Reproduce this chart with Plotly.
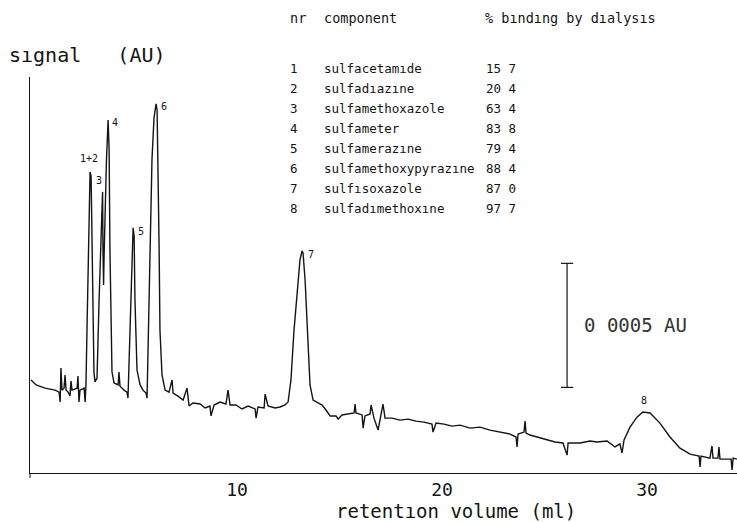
import numpy as np
import plotly.graph_objects as go

# ---- data (retention volume in ml, signal in 1e-4 AU) ----
retention_ml = [
    -0.05, 0.20, 0.63, 1.12, 1.32, 1.37, 1.41, 1.46, 1.56, 1.61, 1.66, 1.76, 1.85, 1.90, 1.95,
    2.20, 2.24, 2.29, 2.34, 2.54, 2.59, 2.63,
    2.68, 2.76, 2.83, 2.88, 2.93, 2.98, 3.02, 3.07, 3.17, 3.27, 3.37, 3.44, 3.46, 3.49, 3.51,
    3.56, 3.63, 3.71, 3.76, 3.80, 3.85, 3.90, 4.00, 4.20, 4.24, 4.29, 4.49, 4.63, 4.68,
    4.78, 4.88, 4.93, 4.98, 5.02, 5.12, 5.27, 5.41, 5.56, 5.61,
    5.66, 5.76, 5.85, 5.95, 6.05, 6.10, 6.15, 6.20, 6.24, 6.34, 6.49, 6.68, 6.83, 6.88,
    7.12, 7.37, 7.56, 7.61, 7.66, 7.85, 8.20, 8.44, 8.68, 8.73, 8.88, 9.17, 9.46, 9.56, 9.66,
    9.95, 10.24, 10.54, 10.88, 10.93, 11.02, 11.32, 11.37, 11.51, 11.85, 12.10, 12.34, 12.49,
    12.63, 12.78, 12.93, 13.07, 13.17, 13.22, 13.32, 13.46, 13.56, 13.71, 13.95, 14.15, 14.34,
    14.54, 14.83, 14.93, 15.12, 15.41, 15.71, 15.76, 15.80, 16.10, 16.15, 16.24, 16.49, 16.54,
    16.68, 16.88, 16.98, 17.12, 17.22, 17.56, 17.95, 18.34, 18.73, 19.12, 19.51, 19.56, 19.71,
    20.10, 20.49, 20.88, 21.37, 21.85, 22.34, 22.83, 23.32, 23.61, 23.66, 23.71, 24.00, 24.05,
    24.10, 24.29, 24.78, 25.12, 25.51, 25.90, 26.10, 26.15, 26.73, 27.22, 27.56, 28.05, 28.44,
    28.68, 28.78, 28.88, 29.17, 29.51, 29.80, 30.15, 30.63, 31.12, 31.61, 32.10, 32.54, 32.59,
    32.63, 33.07, 33.17, 33.22, 33.46, 33.51, 33.56, 34.10, 34.15, 34.20, 34.39,
]
signal = [
    3.35, 3.15, 3.02, 2.94, 2.86, 2.46, 3.83, 2.94, 3.02, 3.55, 2.94, 2.86, 2.70, 3.31, 2.94,
    3.02, 3.51, 2.46, 2.94, 3.02, 2.46, 3.15,
    5.36, 9.40, 11.73, 11.57, 8.99, 5.36, 3.67, 3.27, 3.43, 6.57, 9.80, 10.93, 8.59, 7.18, 8.19,
    10.20, 12.22, 13.83, 12.62, 8.59, 4.96, 3.67, 3.23, 3.15, 3.67, 3.10, 2.94, 2.86, 2.62,
    5.36, 8.59, 9.48, 9.15, 6.57, 3.75, 3.15, 2.94, 2.82, 2.62,
    4.96, 8.59, 12.22, 13.91, 14.48, 14.23, 11.81, 8.59, 5.36, 3.55, 2.94, 2.86, 3.35, 2.82,
    2.70, 2.54, 3.02, 2.46, 2.30, 2.42, 2.38, 2.22, 2.30, 1.90, 2.34, 2.46, 2.38, 2.94, 2.34,
    2.34, 2.18, 2.30, 2.18, 1.81, 2.26, 2.22, 2.78, 2.30, 2.22, 2.26, 2.34, 2.46,
    3.35, 5.36, 6.98, 8.19, 8.55, 8.47, 7.38, 4.96, 3.15, 2.54, 2.42, 2.34, 2.14,
    1.90, 1.90, 1.77, 1.94, 1.98, 2.02, 2.38, 2.02, 1.94, 1.41, 1.90, 1.98, 2.34,
    1.81, 1.33, 1.81, 2.38, 1.81, 1.81, 1.73, 1.77, 1.69, 1.65, 1.57, 1.25, 1.61,
    1.57, 1.49, 1.53, 1.41, 1.45, 1.33, 1.25, 1.17, 1.05, 0.65, 1.17, 1.25, 1.69,
    1.21, 1.13, 1.01, 0.93, 0.85, 0.81, 0.32, 0.81, 0.81, 0.89, 0.85, 0.89, 0.65,
    0.77, 0.40, 0.93, 1.45, 1.85, 2.06, 2.02, 1.61, 1.05, 0.60, 0.36, 0.28, -0.16,
    0.28, 0.20, 0.69, 0.20, 0.20, 0.65, 0.16, 0.16, -0.28, 0.20, 0.16,
]

peak_labels = ["1+2", "3", "4", "5", "6", "7", "8"]
peak_apex_ml = [2.83, 3.44, 3.71, 4.93, 6.05, 13.17, 29.80]

table_nr = ["1", "2", "3", "4", "5", "6", "7", "8"]
table_component = [
    "sulfacetamıde", "sulfadıazıne", "sulfamethoxazole", "sulfameter",
    "sulfamerazıne", "sulfamethoxypyrazıne", "sulfısoxazole", "sulfadımethoxıne",
]
table_binding = ["15 7", "20 4", "63 4", "83 8", "79 4", "88 4", "87 0", "97 7"]

x_ticks = [10, 20, 30]
scale_bar_height = 5.0  # 0.0005 AU in units of 1e-4 AU
scale_bar_label = "0 0005 AU"

# ---- styling / layout ----
INK = "#141414"
MONO = "DejaVu Sans Mono"
W, H = 737, 523
M_L, M_R, M_T, M_B = 30, 0, 77, 50
PW, PH = W - M_L - M_R, H - M_T - M_B


def paper_x(px):
    return (px - M_L) / PW


def paper_y(py):
    return (H - M_B - py) / PH


# label offsets (pixels) relative to each peak apex
label_offsets = {"1+2": (-1, 14), "3": (-4, 11), "4": (7, -3), "5": (8, -4),
                 "6": (8, -3), "7": (9, -4), "8": (1, 11)}

fig = go.Figure()
fig.add_trace(go.Scatter(
    x=retention_ml, y=signal, mode="lines",
    line=dict(color=INK, width=1.4), hoverinfo="skip", showlegend=False,
))

annotations = []
for lab, px in zip(peak_labels, peak_apex_ml):
    py = float(np.interp(px, retention_ml, signal))
    dx, dy = label_offsets[lab]
    annotations.append(dict(
        x=px, y=py, xref="x", yref="y", text=lab, showarrow=False,
        xanchor="center", yanchor="middle", xshift=dx, yshift=dy,
        font=dict(family=MONO, size=10, color=INK),
    ))

# component table
header_py = 18
row1_py = 68
row_step_px = 20.1
col_px = {"nr": 288, "comp": 322, "bind": 484}
for txt, cx in (("nr", col_px["nr"]), ("component", col_px["comp"]),
                ("% bındıng by dıalysıs", col_px["bind"] - 1)):
    annotations.append(dict(x=paper_x(cx), y=paper_y(header_py), xref="paper", yref="paper",
                            text=txt, showarrow=False, xanchor="left", yanchor="middle",
                            font=dict(family=MONO, size=13.5, color=INK)))
for i, (n, c, b) in enumerate(zip(table_nr, table_component, table_binding)):
    py = row1_py + i * row_step_px
    for key, t in (("nr", n), ("comp", c), ("bind", b)):
        annotations.append(dict(x=paper_x(col_px[key]), y=paper_y(py), xref="paper", yref="paper",
                                text=t, showarrow=False, xanchor="left", yanchor="middle",
                                font=dict(family=MONO, size=12.5, color=INK)))

# scale bar
bar_x = 26.1
bar_bottom = 3.05
cap = 0.3
shapes = [
    dict(type="line", xref="x", yref="y", x0=bar_x, x1=bar_x, y0=bar_bottom,
         y1=bar_bottom + scale_bar_height, line=dict(color=INK, width=1.2)),
    dict(type="line", xref="x", yref="y", x0=bar_x - cap, x1=bar_x + cap, y0=bar_bottom,
         y1=bar_bottom, line=dict(color=INK, width=1.2)),
    dict(type="line", xref="x", yref="y", x0=bar_x - cap, x1=bar_x + cap,
         y0=bar_bottom + scale_bar_height, y1=bar_bottom + scale_bar_height,
         line=dict(color=INK, width=1.2)),
    # y axis line continuing slightly below the x axis
    dict(type="line", xref="paper", yref="paper", x0=0, x1=0, y0=0, y1=paper_y(478),
         line=dict(color=INK, width=1)),
]
annotations.append(dict(x=bar_x + 0.75, y=bar_bottom + scale_bar_height / 2, xref="x", yref="y",
                        text=scale_bar_label, showarrow=False, xanchor="left", yanchor="middle",
                        font=dict(family=MONO, size=19, color="#333333")))

# axis titles
annotations.append(dict(x=paper_x(7), y=paper_y(55), xref="paper", yref="paper",
                        text="sıgnal   (AU)", showarrow=False, xanchor="left", yanchor="middle",
                        font=dict(family=MONO, size=20, color=INK)))
annotations.append(dict(x=paper_x(456), y=paper_y(511), xref="paper", yref="paper",
                        text="retentıon volume (ml)", showarrow=False,
                        xanchor="center", yanchor="middle",
                        font=dict(family=MONO, size=19, color=INK)))

fig.update_layout(
    width=W, height=H, autosize=False,
    margin=dict(l=M_L, r=M_R, t=M_T, b=M_B),
    paper_bgcolor="white", plot_bgcolor="white",
    showlegend=False,
    annotations=annotations, shapes=shapes,
    xaxis=dict(range=[-0.1, 34.39], showgrid=False, zeroline=False, showline=True,
               linecolor=INK, linewidth=1, tickvals=x_ticks, ticks="",
               tickfont=dict(family=MONO, size=18, color=INK)),
    yaxis=dict(range=[-0.4, 15.56], showgrid=False, zeroline=False, showline=True,
               linecolor=INK, linewidth=1, showticklabels=False, ticks=""),
)

fig.write_html("out.html")
